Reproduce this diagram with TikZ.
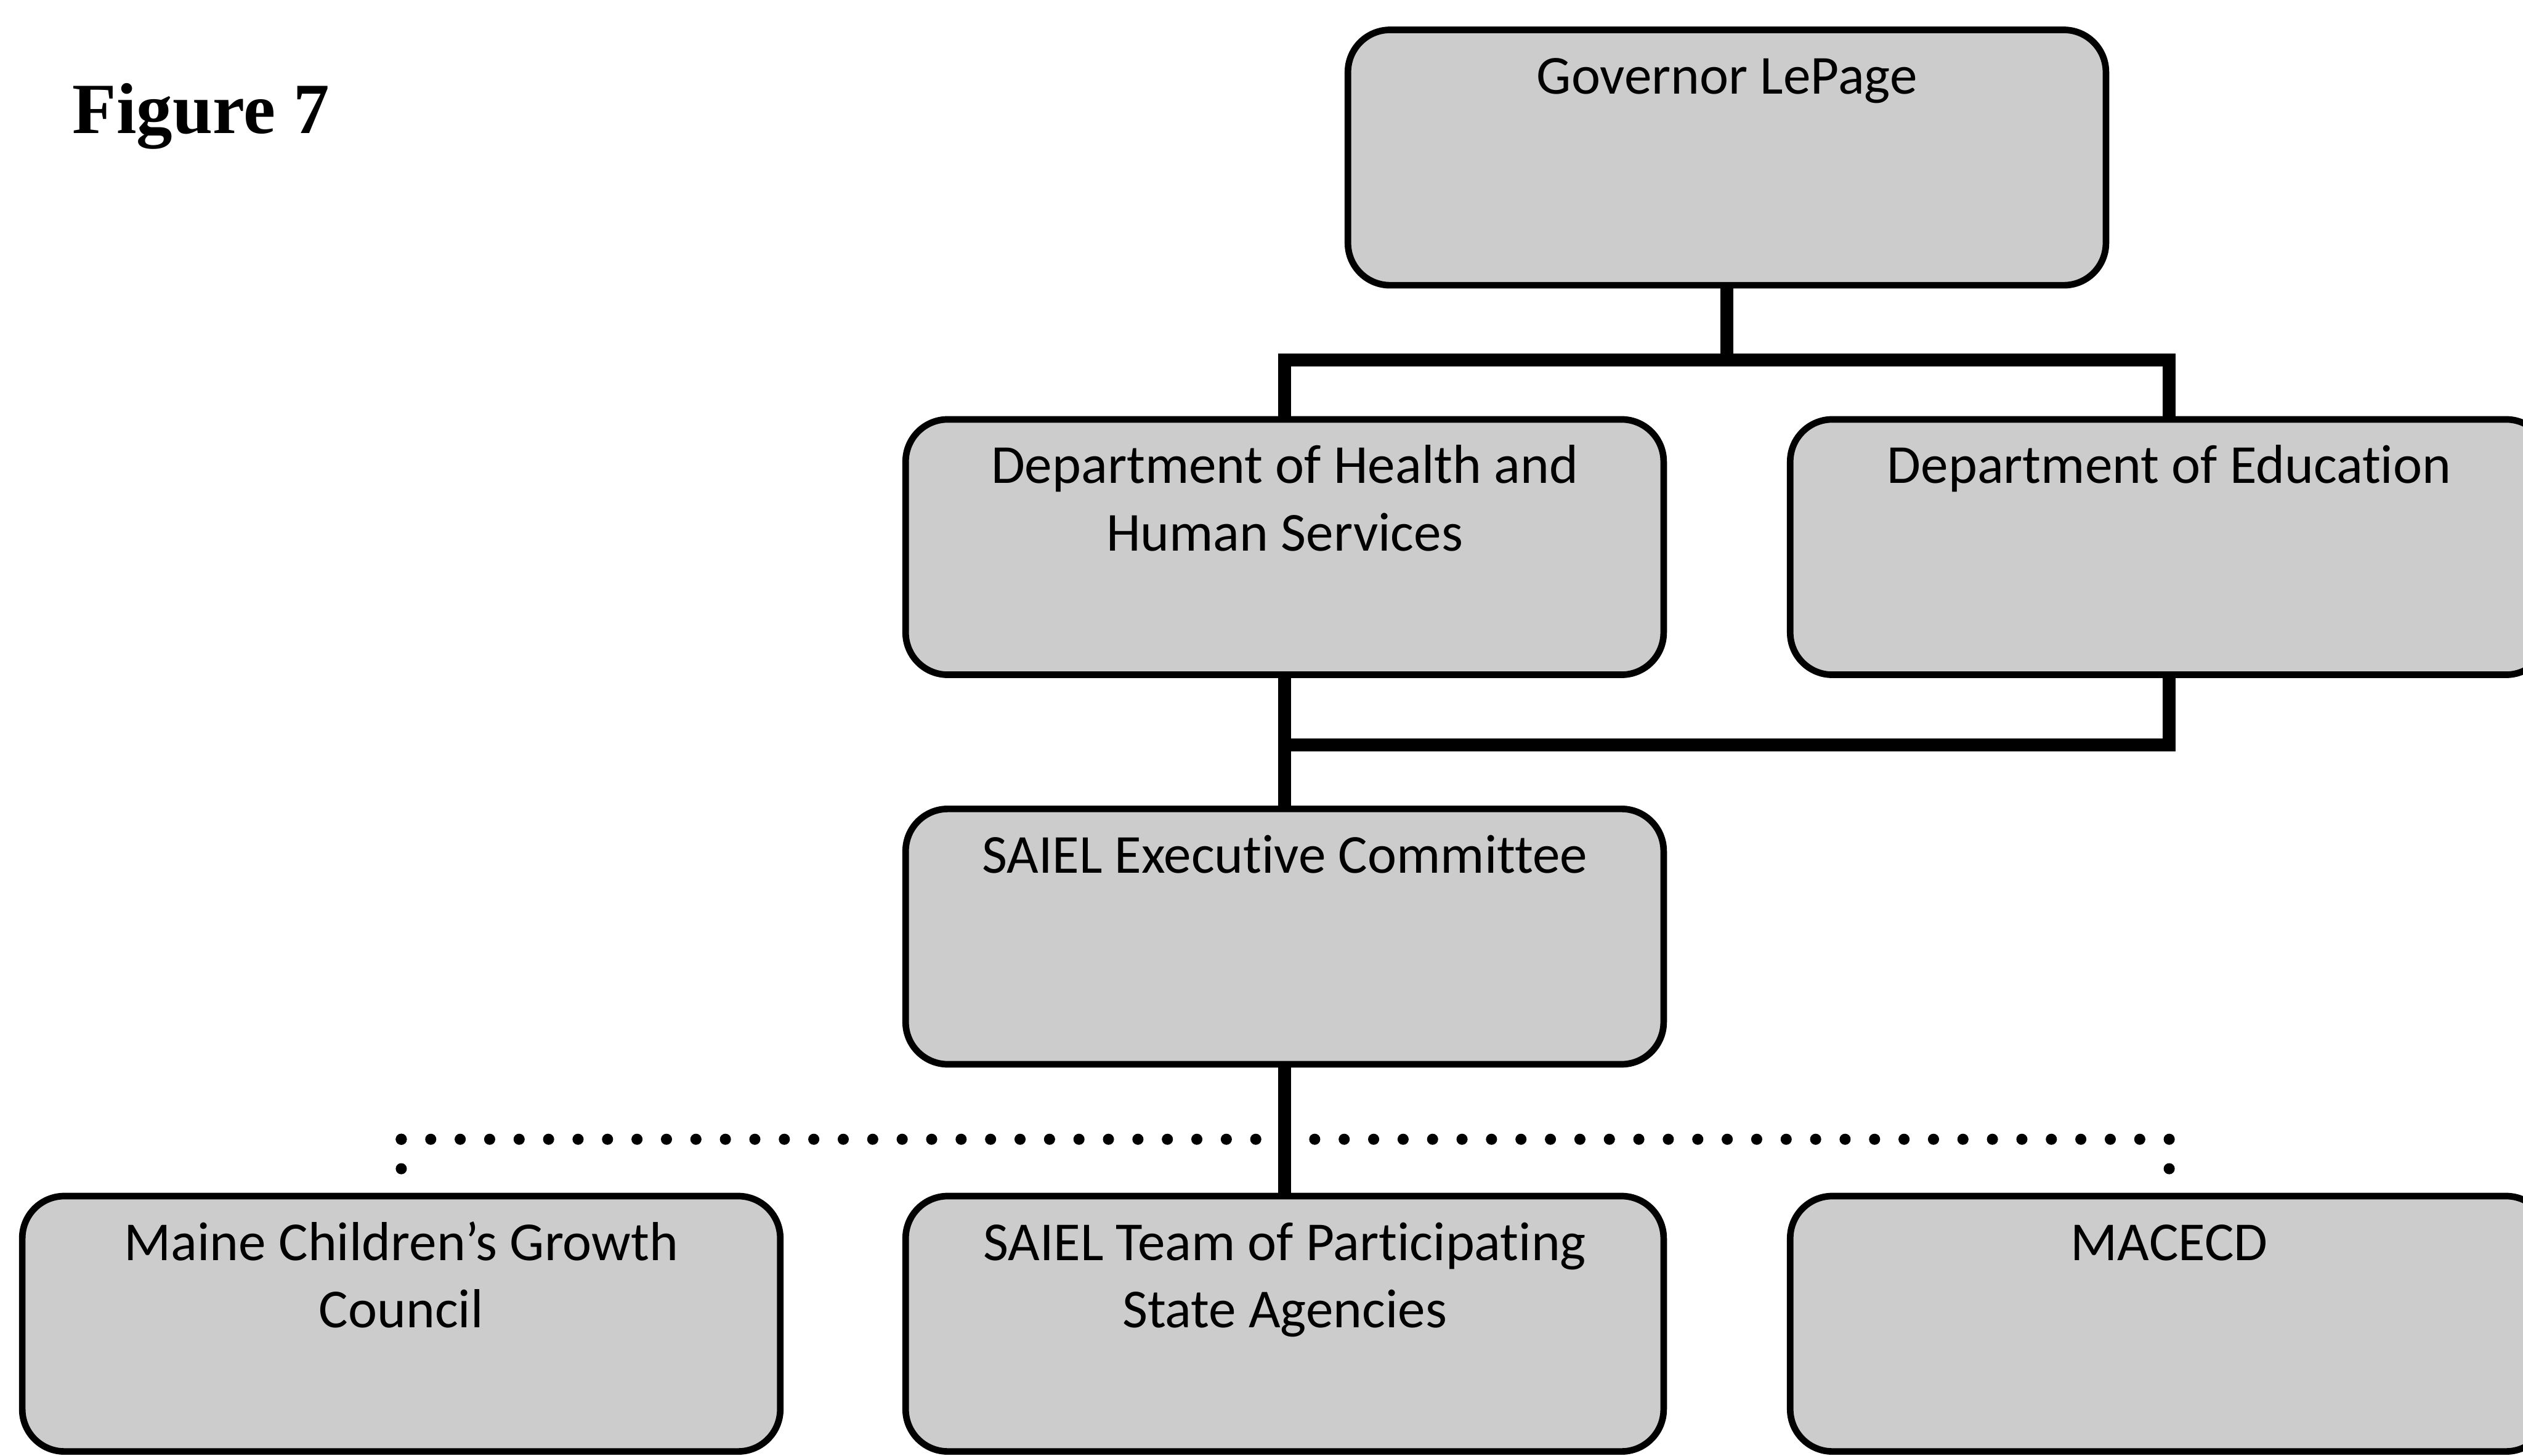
\documentclass[tikz,border=0pt]{standalone}
\usepackage{fontspec}
\setmainfont{Liberation Serif}
\newfontfamily\boxfont[Ligatures=NoCommon]{Carlito}
\usetikzlibrary{positioning}
\definecolor{boxgray}{gray}{0.80}
\tikzset{
  orgbox/.style={draw,line width=3.2pt,rounded corners=0.72cm,fill=boxgray,
    minimum width=12.94cm,minimum height=4.36cm,inner sep=0pt},
  boxtext/.style={text width=12.4cm,align=flush center,inner sep=0pt,anchor=base,
    font=\boxfont\fontsize{26.7}{32.7}\selectfont},
  link/.style={line width=0.22cm},
  dotline/.style={line width=0.19cm,line cap=round,dash pattern=on 0pt off 0.503cm}
}

\begin{document}
\begin{tikzpicture}
  \useasboundingbox (0,0) rectangle (43.07,-24.85);
  \clip (0,0) rectangle (43.07,-24.85);

  \node[font=\bfseries\fontsize{35}{42}\selectfont,anchor=base west,inner sep=0pt]
    (figlabel) at (1.23,-2.28) {Figure 7};

  % boxes, one row after the other
  \node[orgbox] (gov)    at (29.48,-2.69)  {};
  \node[orgbox] (dhhs)   at (21.93,-9.34)  {};
  \node[orgbox] (doe)    at (37.03,-9.34)  {};
  \node[orgbox] (saiel)  at (21.93,-15.99) {};
  \node[orgbox] (mcgc)   at (6.85,-22.60)  {};
  \node[orgbox] (team)   at (21.93,-22.60) {};
  \node[orgbox] (macecd) at (37.03,-22.60) {};

  \node[boxtext] (govtxt)    at ([yshift=-1.15cm]gov.north)    {Governor LePage};
  \node[boxtext] (dhhstxt)   at ([yshift=-1.15cm]dhhs.north)   {Department of Health and\\Human Services};
  \node[boxtext] (doetxt)    at ([yshift=-1.15cm]doe.north)    {Department of Education};
  \node[boxtext] (saieltxt)  at ([yshift=-1.15cm]saiel.north)  {SAIEL Executive Committee};
  \node[boxtext] (mcgctxt)   at ([yshift=-1.15cm]mcgc.north)   {Maine Children’s Growth\\Council};
  \node[boxtext] (teamtxt)   at ([yshift=-1.15cm]team.north)   {SAIEL Team of Participating\\State Agencies};
  \node[boxtext] (macecdtxt) at ([yshift=-1.15cm]macecd.north) {MACECD};

  % solid reporting lines
  \draw[link] (gov.south) -- ++(0,-1.22) coordinate (govbar) -| (dhhs.north);
  \draw[link] (govbar) -| (doe.north);
  \draw[link] (doe.south) -- ++(0,-1.14) -| (saiel.north);
  \draw[link] (dhhs.south) -- (saiel.north);

  % dotted advisory line
  \coordinate (dotl) at (6.85,-19.45);
  \coordinate (dotr) at (37.03,-19.45);
  \draw[dotline] (dotl) -- (dotr);
  \draw[dotline] (dotl) -- (mcgc.north);
  \draw[dotline] (dotr) -- (macecd.north);
  \draw[link] (saiel.south) -- (team.north);
\end{tikzpicture}
\end{document}
